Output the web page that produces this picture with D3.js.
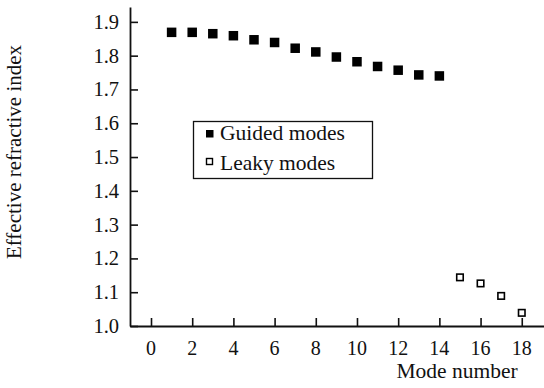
<!DOCTYPE html>
<html>
<head>
<meta charset="utf-8">
<script src="https://cdn.jsdelivr.net/npm/d3@7"></script>
<style>
  body { margin: 0; background: #fff; }
  svg text { font-family: 'Liberation Serif', 'DejaVu Serif', 'Times New Roman', Times, serif; fill: #111; }
</style>
</head>
<body>
<svg id="chart" width="544" height="388"></svg>
<script>
// mode numbers and effective indices
const guidedModes = [1, 2, 3, 4, 5, 6, 7, 8, 9, 10, 11, 12, 13, 14];
const guidedIndex = [1.869, 1.869, 1.865, 1.859, 1.847, 1.839, 1.822, 1.811, 1.796, 1.782, 1.768, 1.757, 1.743, 1.740];
const leakyModes = [15, 16, 17, 18];
const leakyIndex = [1.144, 1.126, 1.089, 1.039];
const xTicks = [0, 2, 4, 6, 8, 10, 12, 14, 16, 18];
const yTicks = [1.0, 1.1, 1.2, 1.3, 1.4, 1.5, 1.6, 1.7, 1.8, 1.9];
const legendLabels = ["Guided modes", "Leaky modes"];

const serif = "'Liberation Serif', 'DejaVu Serif', serif";
const svg = d3.select("#chart");

let xScale = d3.scaleLinear().domain([-1.02, 19.08]).range([130, 544]);
let yScale = d3.scaleLinear().domain([1.0, 1.944]).range([326, 7]);

// x axis, ticks pointing up
let xAxis = d3.axisTop(xScale).tickValues(xTicks).tickSize(8).tickSizeOuter(0).tickFormat("");
let xAxisG = svg.append("g").attr("transform", "translate(0,326)").call(xAxis);

// y axis, ticks pointing right
let yAxis = d3.axisRight(yScale).tickValues(yTicks).tickSize(8).tickSizeOuter(0).tickFormat("");
let yAxisG = svg.append("g").attr("transform", "translate(130,0)").call(yAxis);

[xAxisG, yAxisG].forEach(function(g){
    g.select(".domain").attr("stroke", "#111").attr("stroke-width", 1.8);
    g.selectAll(".tick line").attr("stroke", "#111").attr("stroke-width", 1.6);
});

// tick labels
svg.append("g").selectAll("text").data(xTicks).join("text")
    .attr("x", d => xScale(d))
    .attr("y", 355)
    .attr("text-anchor", "middle")
    .attr("font-family", serif)
    .attr("font-size", 20)
    .text(d => d);

svg.append("g").selectAll("text").data(yTicks).join("text")
    .attr("x", 119)
    .attr("y", d => yScale(d) + 7)
    .attr("text-anchor", "end")
    .attr("font-family", serif)
    .attr("font-size", 20.5)
    .text(d => d.toFixed(1));

// axis titles
svg.append("text")
    .attr("x", 457).attr("y", 378)
    .attr("text-anchor", "middle")
    .attr("font-family", serif)
    .attr("font-size", 21.5)
    .text("Mode number");

svg.append("text")
    .attr("transform", "translate(21,152) rotate(-90)")
    .attr("text-anchor", "middle")
    .attr("font-family", serif)
    .attr("font-size", 21)
    .text("Effective refractive index");

// guided modes: filled squares
const sF = 9.5;
svg.append("g").selectAll("rect").data(guidedModes).join("rect")
    .attr("x", (d, i) => xScale(d) - sF / 2)
    .attr("y", (d, i) => yScale(guidedIndex[i]) - sF / 2)
    .attr("width", sF).attr("height", sF)
    .attr("fill", "#000");

// leaky modes: open squares
const sO = 6.5;
svg.append("g").selectAll("rect").data(leakyModes).join("rect")
    .attr("x", (d, i) => xScale(d) - sO / 2)
    .attr("y", (d, i) => yScale(leakyIndex[i]) - sO / 2)
    .attr("width", sO).attr("height", sO)
    .attr("fill", "#fff").attr("stroke", "#000").attr("stroke-width", 1.6);

// legend
let legend = svg.append("g");
legend.append("rect")
    .attr("x", 193.5).attr("y", 121.5).attr("width", 179).attr("height", 57)
    .attr("fill", "#fff").attr("stroke", "#111").attr("stroke-width", 1.3);

legend.append("rect").attr("x", 206).attr("y", 130).attr("width", 7.5).attr("height", 7.5).attr("fill", "#000");
legend.append("rect").attr("x", 206.5).attr("y", 158.5).attr("width", 6).attr("height", 6)
    .attr("fill", "#fff").attr("stroke", "#000").attr("stroke-width", 1.4);

legend.selectAll("text.lbl").data(legendLabels).join("text")
    .attr("class", "lbl")
    .attr("x", 220)
    .attr("y", (d, i) => 140 + i * 30)
    .attr("font-family", serif)
    .attr("font-size", 21.5)
    .text(d => d);
</script>
</body>
</html>
